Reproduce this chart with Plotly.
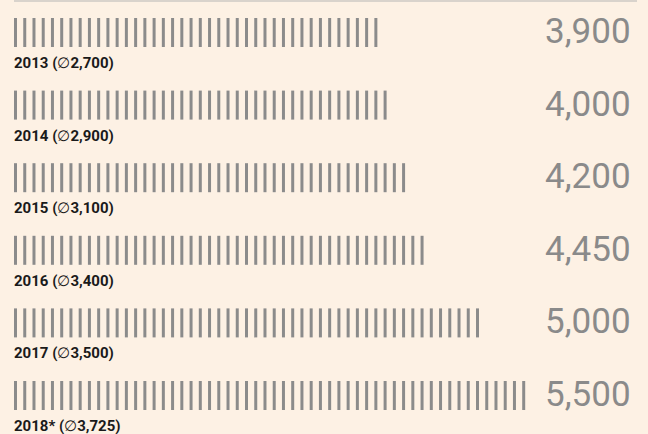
import plotly.graph_objects as go

years = ["2013", "2014", "2015", "2016", "2017", "2018*"]
values = [3900, 4000, 4200, 4450, 5000, 5500]
averages = ["2,700", "2,900", "3,100", "3,400", "3,500", "3,725"]
value_labels = ["3,900", "4,000", "4,200", "4,450", "5,000", "5,500"]
tick_step = 100

BG = "#fdf1e4"
BAR = "#8b8b8b"
W, H = 648, 434

fig = go.Figure()
for i, (yr, v) in enumerate(zip(years, values)):
    xs = list(range(0, v + 1, tick_step))
    fig.add_trace(go.Scatter(
        x=xs, y=[i] * len(xs), mode="markers",
        marker=dict(symbol="line-ns", size=29 / 1.4,
                    line=dict(width=3, color=BAR)),
        hoverinfo="skip", showlegend=False))
    fig.add_annotation(x=0, y=i + 0.42, xref="x", yref="y",
                       text=f"<b>{yr} (</b>∅<b>{averages[i]})</b>",
                       showarrow=False, xanchor="left", yanchor="middle",
                       xshift=-3.5,
                       font=dict(family="Roboto", size=15, color="#1a1a1a"))
    fig.add_annotation(x=633 / W, y=i, xref="paper", yref="y",
                       text=value_labels[i], showarrow=False,
                       xanchor="right", yanchor="middle", yshift=1,
                       font=dict(family="Roboto", size=35, color="#8a8a8a"))

fig.add_shape(type="line", xref="paper", yref="paper",
              x0=14 / W, x1=637 / W, y0=1 - 1 / H, y1=1 - 1 / H,
              line=dict(color="#d9d3cc", width=2))

px_per_unit = 0.0924
x0 = -15.5 / px_per_unit
x1 = x0 + W / px_per_unit
row_px = 72.6
y_top = -32.5 / row_px
y_bot = (H - 32.5) / row_px

fig.update_layout(
    width=W, height=H,
    margin=dict(l=0, r=0, t=0, b=0),
    paper_bgcolor=BG, plot_bgcolor=BG,
    xaxis=dict(range=[x0, x1], visible=False, fixedrange=True),
    yaxis=dict(range=[y_bot, y_top], visible=False, fixedrange=True),
)
fig.write_html("out.html", config={"displayModeBar": False},
               post_script="document.body.style.margin='0';document.body.style.overflow='hidden';")
